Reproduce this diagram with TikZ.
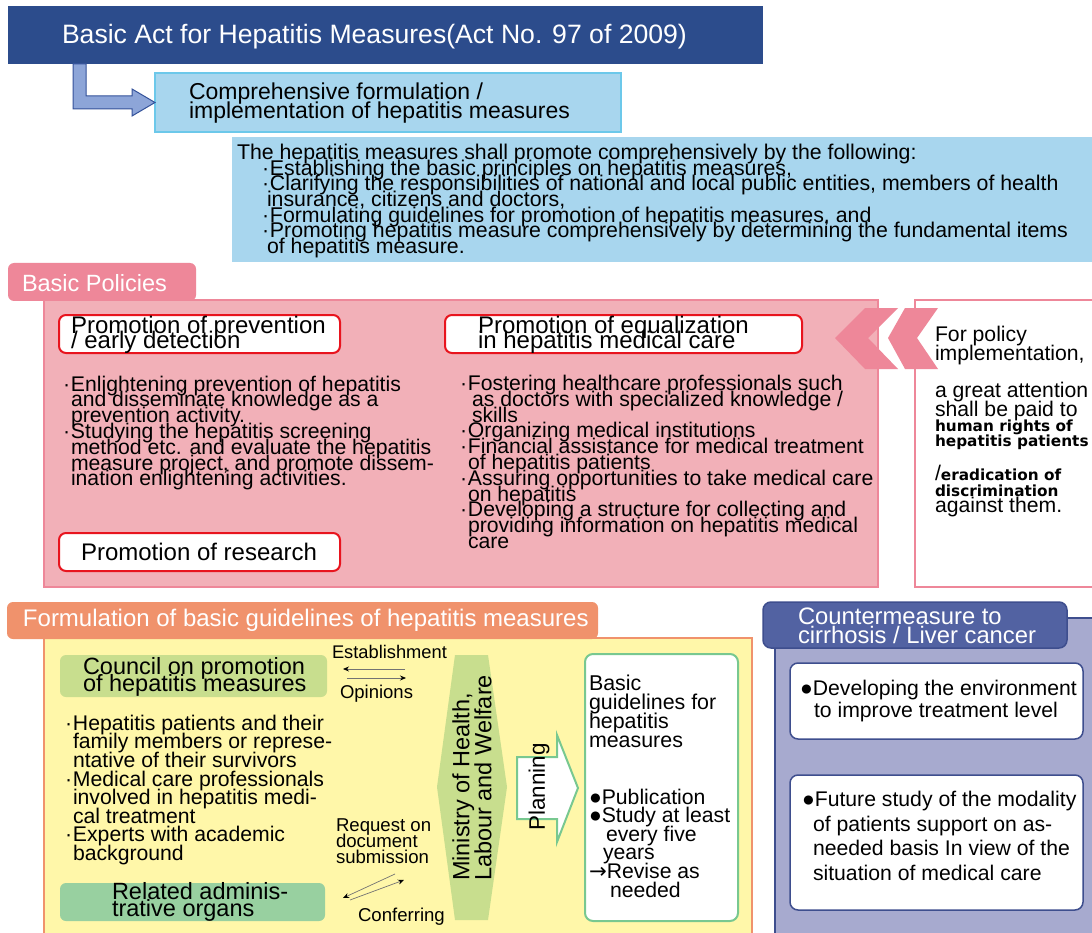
\documentclass[tikz,border=0pt]{standalone}
\usepackage{fontspec}
\setmainfont{Liberation Sans}
\newfontfamily\dvfont{DejaVu Sans}
\usetikzlibrary{arrows.meta}
\newcommand\myfs[2]{\fontsize{#1pt}{#2pt}\selectfont\lineskiplimit=-1000pt\lineskip=0pt\relax}
\newcommand\mybul{\makebox[8pt][l]{·}}
\newcommand\myind[1]{\hspace*{#1pt}}
\definecolor{titleblue}{HTML}{2C4C8C}
\definecolor{arrowfill}{HTML}{8DA5D8}
\definecolor{arrowline}{HTML}{34529A}
\definecolor{lightblue}{HTML}{A8D6EE}
\definecolor{cyanline}{HTML}{6CC8EA}
\definecolor{pinkdark}{HTML}{EE8799}
\definecolor{pinkfill}{HTML}{F2B0B8}
\definecolor{redline}{HTML}{E8141E}
\definecolor{orangetab}{HTML}{F0926C}
\definecolor{yellowfill}{HTML}{FFF7A9}
\definecolor{greenone}{HTML}{C8DE8E}
\definecolor{greentwo}{HTML}{98D0A0}
\definecolor{greenline}{HTML}{78C890}
\definecolor{navytab}{HTML}{5262A2}
\definecolor{navyline}{HTML}{3E4E8E}
\definecolor{lavfill}{HTML}{A7AACF}
\lineskiplimit=-1000pt
\begin{document}
\begin{tikzpicture}[x=1pt,y=-1pt,
  txt/.style={anchor=west,inner sep=0pt,outer sep=0pt,align=left},
  box/.style={rectangle,anchor=north west,inner sep=0pt,outer sep=0pt},
  conn/.style={draw=black!55,line width=0.7pt,-{Stealth[length=6pt,width=5pt,black]}}]
\useasboundingbox (0,0) rectangle (1092,933);
\fill[white] (0,0) rectangle (1092,933);

% ---------- top ----------
\node[box,fill=titleblue,minimum width=755pt,minimum height=58pt] (title) at (8,6) {};
\node[txt,text=white,font=\myfs{26.6}{30}] (titletext) at (62,37) {Basic Act for Hepatitis Measures(Act No. 97 of 2009)};
\node[box,fill=lightblue,draw=cyanline,line width=1.5pt,minimum width=466pt,minimum height=59pt] (comp) at (155,73) {};
\node[txt,font=\myfs{23}{19.5}] (comptext) at (189,103) {Comprehensive formulation /\\implementation of hepatitis measures};
\draw[fill=arrowfill,draw=arrowline,line width=1pt] ([xshift=65pt]title.south west) -- (73,109) -- (132,109) -- (132,116) -- (comp.west) -- (132,89) -- (132,96) -- (86,96) -- ([xshift=78pt]title.south west) -- cycle;
\node[box,fill=lightblue,minimum width=870pt,minimum height=125pt] (blist) at (232,137) {};
\node[txt,font=\myfs{21.3}{15.6}] (blisttext) at (237,201) {The hepatitis measures shall promote comprehensively by the following:\\
\myind{25}\mybul Establishing the basic principles on hepatitis measures,\\
\myind{25}\mybul Clarifying the responsibilities of national and local public entities, members of health\\
\myind{30}insurance, citizens and doctors,\\
\myind{25}\mybul Formulating guidelines for promotion of hepatitis measures, and\\
\myind{25}\mybul Promoting hepatitis measure comprehensively by determining the fundamental items\\
\myind{30}of hepatitis measure.};

% ---------- basic policies ----------
\node[box,fill=pinkfill,draw=pinkdark,line width=1.5pt,minimum width=834pt,minimum height=287pt] (pinkbox) at (44,300) {};
\node[box,fill=pinkdark,rounded corners=6pt,minimum width=188pt,minimum height=38pt] (pinktab) at (8,263) {};
\node[txt,text=white,font=\myfs{23.5}{26}] (pinktabtext) at (22,283) {Basic Policies};
\node[box,fill=white,draw=pinkdark,line width=1.5pt,minimum width=190pt,minimum height=287pt] (whitebox) at (915,300) {};
% chevrons
\fill[pinkdark] (865,308) -- (898,308) -- (868,338) -- (898,369) -- (865,369) -- (835,338) -- cycle;
\fill[pinkdark] (905,308) -- (938,308) -- (917,338) -- (938,369) -- (905,369) -- (888,338) -- cycle;

\node[box,fill=white,draw=redline,line width=2pt,rounded corners=7pt,minimum width=281pt,minimum height=38pt] (prevbox) at (59,315) {};
\node[txt,font=\myfs{24}{15}] (prevtext) at (71,335) {Promotion of prevention\\/ early detection};
\node[box,fill=white,draw=redline,line width=2pt,rounded corners=7pt,minimum width=357pt,minimum height=38pt] (eqbox) at (445,315) {};
\node[txt,font=\myfs{24}{15}] (eqtext) at (478,335) {Promotion of equalization\\in hepatitis medical care};
\node[box,fill=white,draw=redline,line width=2pt,rounded corners=7pt,minimum width=281pt,minimum height=38pt] (resbox) at (59,533) {};
\node[txt,font=\myfs{24}{26}] (restext) at (81,552) {Promotion of research};

\node[txt,font=\myfs{21.2}{15.8}] (prevlist) at (63,433) {\mybul Enlightening prevention of hepatitis\\
\myind{8}and disseminate knowledge as a\\
\myind{8}prevention activity.\\
\mybul Studying the hepatitis screening\\
\myind{8}method etc. and evaluate the hepatitis\\
\myind{8}measure project, and promote dissem-\\
\myind{8}ination enlightening activities.};
\node[txt,font=\myfs{21.2}{15.8}] (eqlist) at (460,462) {\mybul Fostering healthcare professionals such\\
\myind{12}as doctors with specialized knowledge /\\
\myind{12}skills\\
\mybul Organizing medical institutions\\
\mybul Financial assistance for medical treatment\\
\myind{8}of hepatitis patients\\
\mybul Assuring opportunities to take medical care\\
\myind{8}on hepatitis\\
\mybul Developing a structure for collecting and\\
\myind{8}providing information on hepatitis medical\\
\myind{8}care};

\node[txt,font=\myfs{21.2}{19}] (wt1) at (935,346) {For policy\\implementation,};
\node[txt,font=\myfs{21.2}{19}] (wt2) at (935,402) {a great attention\\shall be paid to};
\node[txt,font=\dvfont\bfseries\myfs{15.3}{15.5}] (wt3) at (935,435) {human rights of\\hepatitis patients};
\node[txt,font=\myfs{21.2}{16}] (wt4) at (935,491) {/{\dvfont\bfseries\myfs{15.3}{16}eradication of}\\{\dvfont\bfseries\myfs{15.3}{16}discrimination}\\against them.};

% ---------- formulation ----------
\node[box,fill=yellowfill,draw=orangetab,line width=1.5pt,minimum width=708pt,minimum height=320pt] (yellowbox) at (44,638) {};
\node[box,fill=orangetab,rounded corners=6pt,minimum width=591pt,minimum height=37pt] (orangetabnode) at (7,602) {};
\node[txt,text=white,font=\myfs{24}{26}] (orangetext) at (23,620) {Formulation of basic guidelines of hepatitis measures};

\node[box,fill=greenone,rounded corners=6pt,minimum width=267pt,minimum height=42pt] (council) at (60,655) {};
\node[txt,font=\myfs{23.5}{17.5}] (counciltext) at (83,677) {Council on promotion\\of hepatitis measures};
\node[txt,font=\myfs{21.2}{18.6}] (members) at (65,790) {\mybul Hepatitis patients and their\\
\myind{8}family members or represe-\\
\myind{8}ntative of their survivors\\
\mybul Medical care professionals\\
\myind{8}involved in hepatitis medi-\\
\myind{8}cal treatment\\
\mybul Experts with academic\\
\myind{8}background};
\node[box,fill=greentwo,rounded corners=6pt,minimum width=265pt,minimum height=38pt] (related) at (60,883) {};
\node[txt,font=\myfs{23.5}{17.5}] (relatedtext) at (112,902) {Related adminis-\\trative organs};

\node[txt,font=\myfs{18.3}{20}] (estab) at (332,652) {Establishment};
\node[txt,font=\myfs{18.5}{20}] (opin) at (340,694) {Opinions};
\node[txt,font=\myfs{18.6}{16}] (req) at (336,841) {Request on\\document\\submission};
\node[txt,font=\myfs{18.6}{20}] (conf) at (358,917) {Conferring};
\coordinate (ea) at (405,669); \coordinate (eb) at (343,669);
\coordinate (oa) at (347,678); \coordinate (ob) at (406,678);
\coordinate (ra) at (395,874); \coordinate (rb) at (343,898);
\coordinate (ca) at (350,900); \coordinate (cb) at (404,880);
\draw[conn] (ea) -- (eb);
\draw[conn] (oa) -- (ob);
\draw[conn] (ra) -- (rb);
\draw[conn] (ca) -- (cb);

\fill[greenone] (455,655) -- (488,655) -- (507,787) -- (488,920) -- (455,920) -- (437,787) -- cycle;
\node[rotate=90,inner sep=0pt,align=left,font=\myfs{23.5}{22}] (mhlw) at (472,778) {Ministry of Health,\\Labour and Welfare};
\draw[fill=white,draw=greenline,line width=2pt] (517,757) -- (557,757) -- (557,735) -- (578,788) -- (557,842) -- (557,819) -- (517,819) -- cycle;
\node[rotate=90,inner sep=0pt,font=\myfs{22.4}{24}] (planning) at (539,787) {Planning};

\node[box,fill=white,draw=greenline,line width=2pt,rounded corners=8pt,minimum width=153pt,minimum height=267pt] (guide) at (585,654) {};
\node[txt,font=\myfs{21.4}{19}] (guidetext) at (589,711) {Basic\\guidelines for\\hepatitis\\measures};
\node[txt,font=\myfs{21.2}{18.6}] (pubtext) at (589,843) {●Publication\\●Study at least\\\myind{17}every five\\\myind{14}years\\{\dvfont →}Revise as\\\myind{21}needed};

% ---------- countermeasure ----------
\node[box,fill=lavfill,draw=navyline,line width=1.5pt,minimum width=330pt,minimum height=330pt] (lavbox) at (775,618) {};
\node[box,fill=navytab,draw=navyline,line width=1.5pt,rounded corners=8pt,minimum width=304pt,minimum height=46pt] (ctab) at (763,602) {};
\node[txt,text=white,font=\myfs{23.8}{19.5}] (ctabtext) at (798,626) {Countermeasure to\\cirrhosis / Liver cancer};
\node[box,fill=white,draw=navyline,line width=1.5pt,rounded corners=8pt,minimum width=293pt,minimum height=76pt] (inone) at (790,663) {};
\node[txt,font=\myfs{21.2}{22}] (inonetext) at (800,701) {●Developing the environment\\\myind{14}to improve treatment level};
\node[box,fill=white,draw=navyline,line width=1.5pt,rounded corners=8pt,minimum width=293pt,minimum height=135pt] (intwo) at (790,775) {};
\node[txt,font=\myfs{21.2}{24.6}] (intwotext) at (802,836) {●Future study of the modality\\\myind{11}of patients support on as-\\\myind{11}needed basis In view of the\\\myind{11}situation of medical care};
\end{tikzpicture}
\end{document}
